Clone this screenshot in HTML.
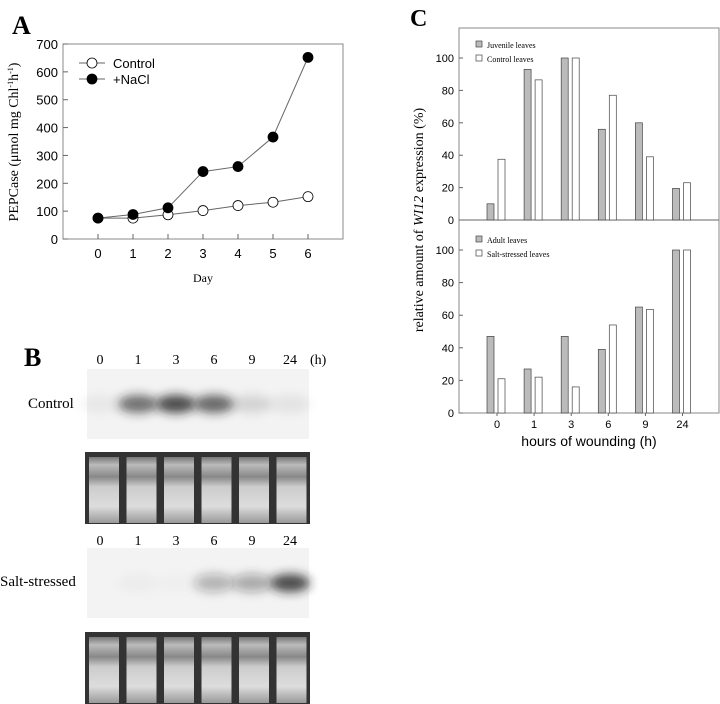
<!DOCTYPE html>
<html><head><meta charset="utf-8"><style>
body{margin:0;background:#fff;width:720px;height:704px;overflow:hidden}
svg{display:block}
text{font-family:"Liberation Sans",sans-serif}
.serif{font-family:"Liberation Serif",serif}
</style></head><body>
<svg id="fig" width="720" height="704" viewBox="0 0 720 704">
<defs>
<filter id="blur" x="-50%" y="-100%" width="200%" height="300%"><feGaussianBlur stdDeviation="5"/></filter>
<linearGradient id="lane" x1="0" y1="0" x2="0" y2="1">
<stop offset="0" stop-color="#777"/><stop offset="0.12" stop-color="#bbb"/><stop offset="0.3" stop-color="#888"/><stop offset="0.45" stop-color="#ccc"/><stop offset="0.75" stop-color="#ddd"/><stop offset="1" stop-color="#999"/>
</linearGradient>
</defs>
<g id="panelA"></g>
<g id="panelB"></g>
<g id="panelC"></g>
</svg>
<script>
const NS="http://www.w3.org/2000/svg";
// Panel A data
const days=[0,1,2,3,4,5,6];
const controlVals=[75,75,87,102,120,132,152];
const naclVals=[75,88,112,242,260,366,652];
const aYTicks=[0,100,200,300,400,500,600,700];
// Panel C data
const hours=["0","1","3","6","9","24"];
const juvenileVals=[10,93,100,56,60,19.5];
const controlLeafVals=[37.5,86.5,100,77,39,23];
const adultVals=[47,27,47,39,65,100];
const saltVals=[21,22,16,54,63.5,100];
const cYTicks=[0,20,40,60,80,100];
// Panel B lanes
const blotLabels=["0","1","3","6","9","24"];
const controlBlot=[0.05,0.75,0.95,0.8,0.15,0.08];
const saltBlot=[0,0.03,0.02,0.35,0.4,0.95];

function el(tag,attrs,parent,txt){const e=document.createElementNS(NS,tag);for(const k in attrs)e.setAttribute(k,attrs[k]);if(txt!==undefined)e.textContent=txt;parent.appendChild(e);return e;}

// ---- Panel A ----
const A=document.getElementById('panelA');
const ax=d=>98+d*35, ay=v=>239-v*(195/700);
let t=el('text',{x:12,y:34,'font-size':26,'font-weight':'bold',class:'serif'},A,'A');

let r=el('rect',{x:63,y:44,width:280,height:195,fill:'none',stroke:'#888','stroke-width':1},A);

aYTicks.forEach(v=>{
 el('line',{x1:63,x2:68,y1:ay(v),y2:ay(v),stroke:'#666'},A);
 const l=el('text',{x:58,y:ay(v)+5,'font-size':13,'text-anchor':'end'},A,v);
 
});
days.forEach(d=>{
 el('line',{x1:ax(d),x2:ax(d),y1:239,y2:234,stroke:'#666'},A);
 const l=el('text',{x:ax(d),y:258,'font-size':13,'text-anchor':'middle'},A,d);
 
});
t=el('text',{x:203,y:282,'font-size':12,'text-anchor':'middle',class:'serif'},A,'Day');

t=el('text',{x:0,y:0,'font-size':14,'text-anchor':'middle',class:'serif',transform:'translate(18,142) rotate(-90)'},A);

t.innerHTML='PEPCase (μmol mg Chl<tspan font-size="8" dy="-5">-1</tspan><tspan dy="5">h</tspan><tspan font-size="8" dy="-5">-1</tspan><tspan dy="5">)</tspan>';
function series(vals,fill,name){
 const p=el('polyline',{points:vals.map((v,i)=>ax(days[i])+','+ay(v)).join(' '),fill:'none',stroke:'#666','stroke-width':1},A);
 
 vals.forEach((v,i)=>{const c=el('circle',{cx:ax(days[i]),cy:ay(v),r:5,fill:fill,stroke:'#000','stroke-width':0.8},A);
 });
}
series(controlVals,'#fff','control');
series(naclVals,'#000','nacl');
[['Control','#fff',63],['+NaCl','#000',79]].forEach(([n,f,y])=>{
 el('line',{x1:79,x2:105,y1:y,y2:y,stroke:'#666'},A);
 el('circle',{cx:92,cy:y,r:5,fill:f,stroke:'#000','stroke-width':0.8},A);
 const l=el('text',{x:113,y:y+5,'font-size':13},A,n);
 
});

// ---- Panel B ----
const B=document.getElementById('panelB');
t=el('text',{x:24,y:366,'font-size':26,'font-weight':'bold',class:'serif'},B,'B');

const laneX=i=>100+i*38;
function labels(y,extra){blotLabels.forEach((s,i)=>{const l=el('text',{x:laneX(i),y:y,'font-size':14,'text-anchor':'middle',class:'serif'},B,s);
 });
 if(extra){const l=el('text',{x:310,y:y,'font-size':14,class:'serif'},B,'(h)');}}
labels(364,true);labels(545,false);
function blot(y,vals,name){
 const r=el('rect',{x:87,y:y,width:222,height:70,fill:'#f3f3f3'},B);
 
 vals.forEach((v,i)=>{if(v<=0)return;const e=el('ellipse',{cx:laneX(i),cy:y+35,rx:20,ry:9,fill:'#222','fill-opacity':v*0.85,filter:'url(#blur)'},B);
 });
}
function gel(y,name){
 const r=el('rect',{x:85,y:y,width:225,height:72,fill:'#333'},B);
 
 blotLabels.forEach((s,i)=>{const lx=87+i*37.5;const l=el('rect',{x:lx+2,y:y+5,width:30,height:66,fill:'url(#lane)'},B);
 });
}
blot(369,controlBlot,'control-blot');
gel(452,'control-gel');
blot(548,saltBlot,'salt-blot');
gel(632,'salt-gel');
t=el('text',{x:28,y:408,'font-size':15,class:'serif'},B,'Control');

t=el('text',{x:0,y:586,'font-size':15,class:'serif'},B,'Salt-stressed');


// ---- Panel C ----
const C=document.getElementById('panelC');
t=el('text',{x:410,y:26,'font-size':24,'font-weight':'bold',class:'serif'},C,'C');

const cx=i=>497+i*37.1;
const topY=v=>220-v*1.62, botY=v=>413-v*1.63;
r=el('rect',{x:459,y:28,width:260,height:385,fill:'none',stroke:'#888'},C);

el('line',{x1:459,x2:719,y1:220,y2:220,stroke:'#666'},C);
[topY,botY].forEach(f=>cYTicks.forEach(v=>{
 el('line',{x1:459,x2:463,y1:f(v),y2:f(v),stroke:'#666'},C);
 const l=el('text',{x:454,y:f(v)+4,'font-size':11,'text-anchor':'end'},C,v);
 
}));
function bars(vals,f,off,fill,name){vals.forEach((v,i)=>{const y=f(v);const b=el('rect',{x:cx(i)+off,y:y,width:7,height:f(0)-y,fill:fill,stroke:'#444','stroke-width':0.7},C);
 });}
bars(juvenileVals,topY,-10,'#bbb','juvenile');
bars(controlLeafVals,topY,1,'#fff','control-leaves');
bars(adultVals,botY,-10,'#bbb','adult');
bars(saltVals,botY,1,'#fff','salt-stressed');
hours.forEach((h,i)=>{el('line',{x1:cx(i),x2:cx(i),y1:413,y2:416,stroke:'#666'},C);
 const l=el('text',{x:cx(i),y:428,'font-size':11,'text-anchor':'middle'},C,h);
 });
[['Juvenile leaves','#bbb',46],['Control leaves','#fff',60],['Adult leaves','#bbb',241],['Salt-stressed leaves','#fff',255]].forEach(([n,f,y])=>{
 el('rect',{x:476,y:y-5,width:6,height:6,fill:f,stroke:'#444','stroke-width':0.7},C);
 const l=el('text',{x:487,y:y+2,'font-size':8,class:'serif'},C,n);
 
});
t=el('text',{x:589,y:446,'font-size':14,'text-anchor':'middle'},C,'hours of wounding (h)');

t=el('text',{x:0,y:0,'font-size':14,'text-anchor':'middle',class:'serif',transform:'translate(423,220) rotate(-90)'},C);

t.innerHTML='relative amount of <tspan font-style="italic">WI12</tspan> expression (%)';
</script>
</body></html>
